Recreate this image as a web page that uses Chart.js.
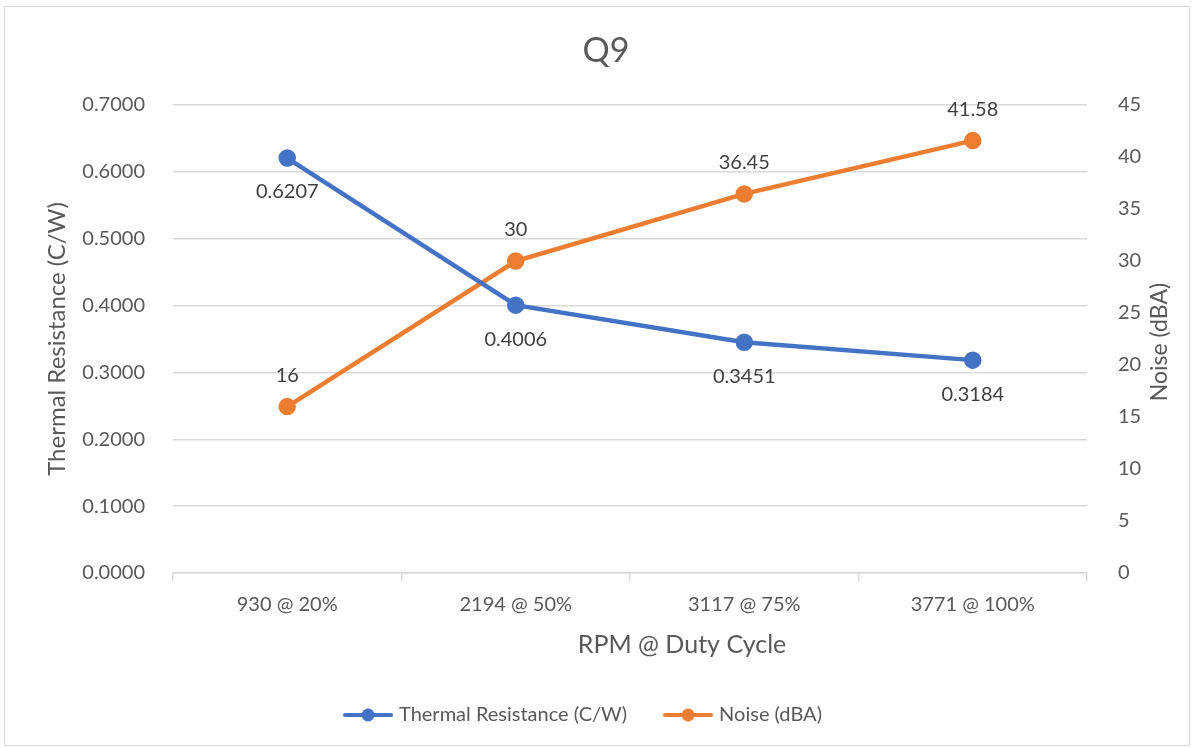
<!DOCTYPE html>
<html>
<head>
<meta charset="utf-8">
<script src="https://cdn.jsdelivr.net/npm/chart.js@4/dist/chart.umd.min.js"></script>
<style>
    html, body { margin: 0; padding: 0; background: #fff; }
    #wrap { position: absolute; left: 0; top: 0; width: 1197px; height: 748px; }
    #frame { position: absolute; left: 4px; top: 6px; width: 1186px; height: 740px; border: 1px solid #d9d9d9; box-sizing: border-box; }
    canvas { position: absolute; left: 0; top: 0; }
</style>
</head>
<body>
<div id="wrap">
    <div id="frame"></div>
    <canvas id="chart" width="1197" height="748"></canvas>
</div>
<script>
// データ
const categories = ["930 @ 20%", "2194 @ 50%", "3117 @ 75%", "3771 @ 100%"];
const thermalResistance = [0.6207, 0.4006, 0.3451, 0.3184];
const noise = [16, 30, 36.45, 41.58];
const thermalLabels = ["0.6207", "0.4006", "0.3451", "0.3184"];
const noiseLabels = ["16", "30", "36.45", "41.58"];

const BLUE = "#4472C4";
const ORANGE = "#ED7D31";
const TEXT = "#595959";
const GRID = "#d9d9d9";
const FONT = "Lato, 'Open Sans', sans-serif";

// 凡例用のアイコン（線＋丸）
function legendIcon(color) {
    const c = document.createElement("canvas");
    c.width = 50;
    c.height = 16;
    const g = c.getContext("2d");
    g.strokeStyle = color;
    g.lineWidth = 4;
    g.lineCap = "round";
    g.beginPath();
    g.moveTo(2, 8);
    g.lineTo(48, 8);
    g.stroke();
    g.fillStyle = color;
    g.beginPath();
    g.arc(25, 8, 6.5, 0, Math.PI * 2);
    g.fill();
    return c;
}

// データラベル
const valueLabels = {
    id: "valueLabels",
    afterDatasetsDraw(chart) {
        const ctx = chart.ctx;
        ctx.save();
        ctx.font = "20px " + FONT;
        ctx.fillStyle = "#404040";
        ctx.textAlign = "center";
        ctx.textBaseline = "middle";
        chart.data.datasets.forEach((ds, i) => {
            const meta = chart.getDatasetMeta(i);
            meta.data.forEach((pt, j) => {
                const dy = ds.labelPos === "below" ? 34 : -31;
                ctx.fillText(ds.labelText[j], pt.x, pt.y + dy);
            });
        });
        ctx.restore();
    }
};

// タイトル類（Excel風の位置に手書き）
function drawText(ctx, text, x, y, size, rot) {
    ctx.save();
    ctx.translate(x, y);
    if (rot) ctx.rotate(rot);
    ctx.font = size + "px " + FONT;
    ctx.fillStyle = TEXT;
    ctx.textAlign = "center";
    ctx.textBaseline = "middle";
    ctx.fillText(text, 0, 0);
    ctx.restore();
}

const extraTitles = {
    id: "extraTitles",
    afterLayout(chart) {
        // 凡例を少し左へ
        chart.legend.left -= 14;
        chart.legend.right -= 14;
    },
    afterDraw(chart) {
        const ctx = chart.ctx;
        const area = chart.chartArea;
        drawText(ctx, "Q9", 606, 51, 34, 0);
        drawText(ctx, "RPM @ Duty Cycle", 682, 645, 25, 0);
        drawText(ctx, "Noise (dBA)", 1160, (area.top + area.bottom) / 2 + 3, 23, -Math.PI / 2);
    }
};

new Chart(document.getElementById("chart"), {
    type: "line",
    data: {
        labels: categories,
        datasets: [
            {
                label: "Thermal Resistance (C/W)",
                data: thermalResistance,
                labelText: thermalLabels,
                labelPos: "below",
                yAxisID: "y",
                borderColor: BLUE,
                backgroundColor: BLUE,
                borderWidth: 4.5,
                pointRadius: 6.5,
                pointHoverRadius: 6.5,
                tension: 0
            },
            {
                label: "Noise (dBA)",
                data: noise,
                labelText: noiseLabels,
                labelPos: "above",
                yAxisID: "y1",
                borderColor: ORANGE,
                backgroundColor: ORANGE,
                borderWidth: 4.5,
                pointRadius: 6.5,
                pointHoverRadius: 6.5,
                tension: 0
            }
        ]
    },
    options: {
        responsive: false,
        animation: false,
        layout: {
            padding: { left: 0, right: 0, top: 0, bottom: 13 }
        },
        plugins: {
            title: {
                // 余白確保用（文字は extraTitles で描画）
                display: true,
                text: "Q9",
                color: "rgba(0,0,0,0)",
                font: { family: FONT, size: 32, weight: "normal" },
                padding: { top: 31, bottom: 35.6 }
            },
            legend: {
                position: "bottom",
                labels: {
                    color: TEXT,
                    font: { family: FONT, size: 20 },
                    usePointStyle: true,
                    pointStyleWidth: 42,
                    padding: 40,
                    generateLabels(chart) {
                        return chart.data.datasets.map((ds, i) => ({
                            text: ds.label,
                            fontColor: TEXT,
                            pointStyle: legendIcon(ds.borderColor),
                            datasetIndex: i,
                            lineWidth: 0,
                            strokeStyle: ds.borderColor,
                            fillStyle: ds.borderColor
                        }));
                    }
                }
            },
            tooltip: { enabled: false }
        },
        scales: {
            x: {
                offset: true,
                afterFit: s => { s.height = 92; },
                border: { color: GRID, width: 1.5 },
                grid: {
                    display: true,
                    offset: true,
                    drawOnChartArea: false,
                    drawTicks: true,
                    tickLength: 8,
                    color: GRID,
                    lineWidth: 1.5
                },
                ticks: { color: TEXT, font: { family: FONT, size: 20 }, padding: 12, maxRotation: 0 }
            },
            y: {
                position: "left",
                min: 0,
                max: 0.7,
                afterFit: s => { s.width = 173; },
                border: { display: false },
                grid: { color: GRID, lineWidth: 1.5, drawTicks: false },
                ticks: {
                    stepSize: 0.1,
                    color: TEXT,
                    font: { family: FONT, size: 20 },
                    padding: 28,
                    callback: v => v.toFixed(4)
                },
                title: {
                    display: true,
                    text: "Thermal Resistance (C/W)",
                    color: TEXT,
                    font: { family: FONT, size: 24 },
                    padding: { top: 43, bottom: 0 }
                }
            },
            y1: {
                position: "right",
                min: 0,
                max: 45,
                afterFit: s => { s.width = 110; },
                border: { display: false },
                grid: { display: false, drawTicks: false },
                ticks: {
                    stepSize: 5,
                    color: TEXT,
                    font: { family: FONT, size: 20 },
                    padding: 31
                }
            }
        }
    },
    plugins: [valueLabels, extraTitles]
});
</script>
</body>
</html>
